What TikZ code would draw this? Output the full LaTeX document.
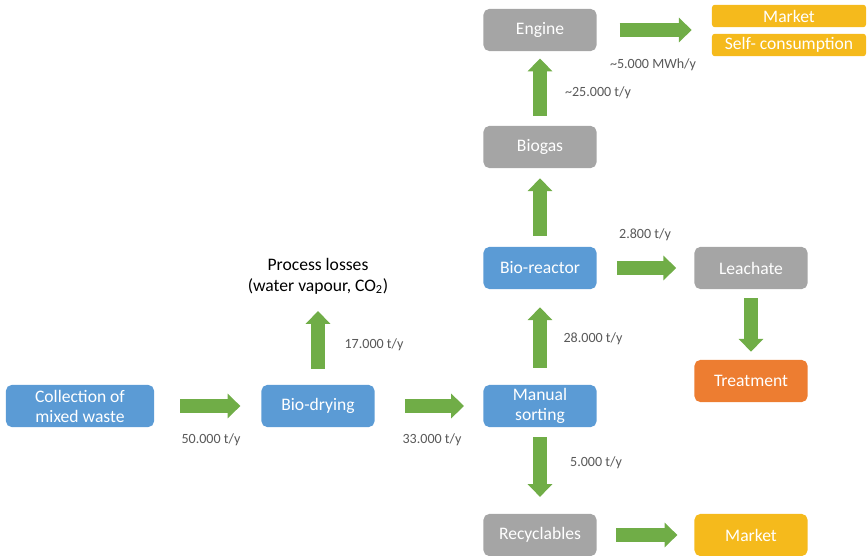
\documentclass[tikz,border=0pt]{standalone}
\usepackage{fontspec}
\setmainfont{Carlito}
\usepackage{xcolor}
\usetikzlibrary{arrows.meta}
\definecolor{boxblue}{HTML}{5B9BD5}
\definecolor{boxgray}{HTML}{A5A5A5}
\definecolor{boxorange}{HTML}{ED7D31}
\definecolor{boxgold}{HTML}{F5BA1C}
\definecolor{flowgreen}{HTML}{70AD47}
\definecolor{labelgray}{HTML}{595959}
\tikzset{
    base/.style={align=center, text=white, rounded corners=4pt,
                 minimum height=1.05cm, inner sep=1pt,
                 font=\fontsize{12.5}{14.2}\selectfont},
    proc/.style={base, fill=boxblue, minimum width=2.825cm},
    wide/.style={proc, minimum width=3.7cm},
    prod/.style={base, fill=boxgray, minimum width=2.825cm},
    treat/.style={base, fill=boxorange, minimum width=2.825cm},
    sell/.style={base, fill=boxgold, minimum width=2.825cm},
    thin/.style={sell, minimum width=3.85cm, minimum height=0.56cm,
                 rounded corners=2pt},
    amount/.style={text=labelgray, font=\fontsize{10}{12}\selectfont},
    flow/.style={-{Triangle[width=0.6cm,length=0.32cm]}, draw=flowgreen,
                 line width=0.33cm},
}
\begin{document}
\begin{tikzpicture}[x=0.025cm, y=-0.025cm]
    \useasboundingbox (0,0) rectangle (867,556);

    % main line
    \node[wide] (coll) at (80,406) {Collection of\\mixed waste};
    \node[proc] (dry) at (318,406) {Bio-drying};
    \node[proc] (sort) at (540,406) {Manual\\sorting};
    \node[proc] (reac) at (540,268) {Bio-reactor};
    \node[prod] (gas) at (540,147) {Biogas};
    \node[prod] (eng) at (540,30) {Engine};

    % outputs
    \node[thin] (mkt) at (789,16) {Market};
    \node[thin] (self) at (789,45) {Self- consumption};
    \node[prod] (leach) at (751,268) {Leachate};
    \node[treat] (trt) at (751,381) {Treatment};
    \node[prod] (recy) at (540,535) {Recyclables};
    \node[sell] (mkt2) at (751,535) {Market};
    \node[align=center, font=\fontsize{12.5}{15}\selectfont] (loss) at (318,276)
        {Process losses\\(water vapour, CO\textsubscript{2})};

    % flows
    \draw[flow, shorten <=0.65cm, shorten >=0.52cm] (coll.east) -- (coll.east -| dry.west);
    \draw[flow, shorten <=0.75cm, shorten >=0.48cm] (dry.east) -- (sort.west);
    \draw[flow, shorten <=0.4cm, shorten >=0.3cm] (dry.north) -- (dry.north |- loss.south);
    \draw[flow, shorten <=0.42cm, shorten >=0.45cm] (sort.north) -- (reac.south);
    \draw[flow, shorten <=0.27cm, shorten >=0.25cm] (reac.north) -- (gas.south);
    \draw[flow, shorten <=0.25cm, shorten >=0.18cm] (gas.north) -- (eng.south);
    \draw[flow, shorten <=0.57cm, shorten >=0.5cm] (eng.east) -- (eng.east -| mkt.west);
    \draw[flow, shorten <=0.5cm, shorten >=0.45cm] (reac.east) -- (leach.west);
    \draw[flow, shorten <=0.22cm, shorten >=0.2cm] (leach.south) -- (trt.north);
    \draw[flow, shorten <=0.25cm, shorten >=0.42cm] (sort.south) -- (recy.north);
    \draw[flow, shorten <=0.48cm, shorten >=0.42cm] (recy.east) -- (mkt2.west);

    % amounts
    \node[amount] (a1) at (211,440) {50.000 t/y};
    \node[amount] (a2) at (432,440) {33.000 t/y};
    \node[amount] (a3) at (374,345) {17.000 t/y};
    \node[amount] (a4) at (593,339) {28.000 t/y};
    \node[amount] (a5) at (645,235) {2.800 t/y};
    \node[amount] (a6) at (598,93) {\textasciitilde25.000 t/y};
    \node[amount] (a7) at (653,65) {\textasciitilde5.000 MWh/y};
    \node[amount] (a8) at (596,463) {5.000 t/y};

\end{tikzpicture}
\end{document}
